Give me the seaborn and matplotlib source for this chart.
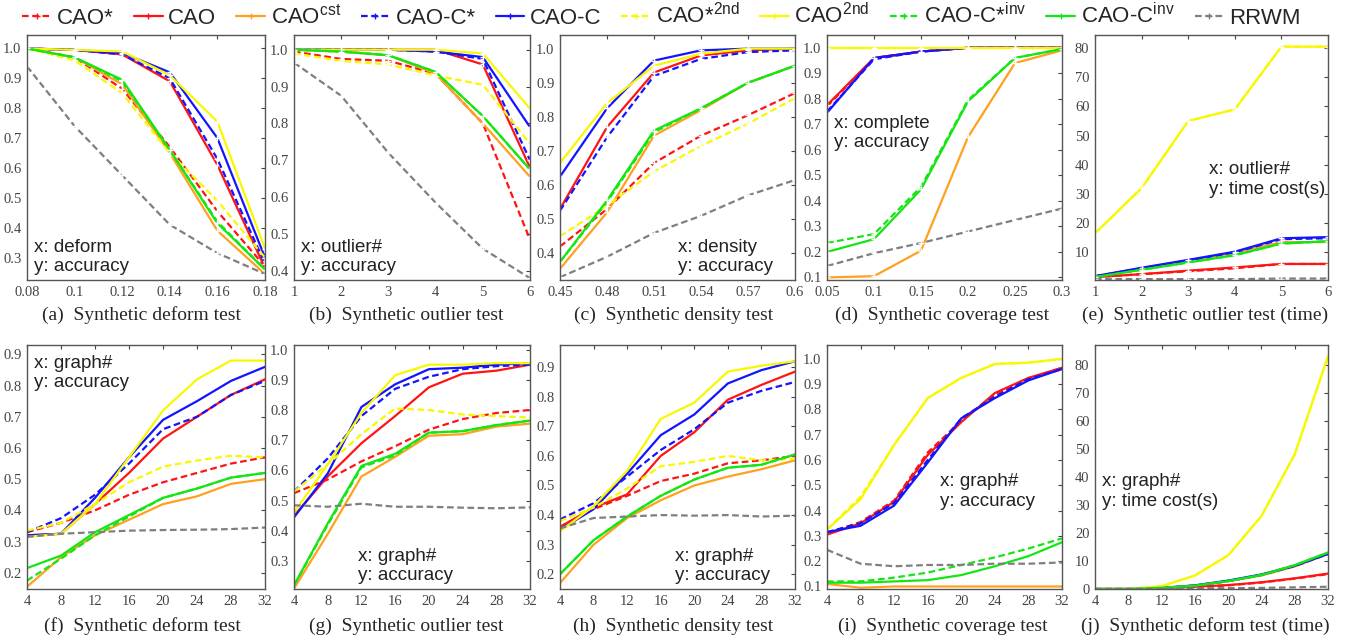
import numpy as np
import pandas as pd
import seaborn as sns
import matplotlib.pyplot as plt
from matplotlib.lines import Line2D
from matplotlib.ticker import MultipleLocator, FormatStrFormatter

# methods, in legend order
methods = ['CAO*', 'CAO', 'CAOcst', 'CAO-C*', 'CAO-C',
           'CAO*2nd', 'CAO2nd', 'CAO-C*inv', 'CAO-Cinv', 'RRWM']
legend_labels = ['CAO*', 'CAO', r'CAO$^{cst}$', 'CAO-C*', 'CAO-C',
                 r'CAO*$^{2nd}$', r'CAO$^{2nd}$', r'CAO-C*$^{inv}$',
                 r'CAO-C$^{inv}$', 'RRWM']

# x values
deform_x = [0.08, 0.1, 0.12, 0.14, 0.16, 0.18]
outlier_x = [1, 2, 3, 4, 5, 6]
density_x = [0.45, 0.48, 0.51, 0.54, 0.57, 0.6]
coverage_x = [0.05, 0.1, 0.15, 0.2, 0.25, 0.3]
graph_x = [4, 8, 12, 16, 20, 24, 28, 32]

# (a) deform test, rows follow `methods`
deform_acc = [
    [1.0, 0.97, 0.865, 0.67, 0.455, 0.27],
    [1.0, 0.995, 0.98, 0.89, 0.61, 0.265],
    [1.0, 0.97, 0.88, 0.65, 0.39, 0.245],
    [1.0, 0.995, 0.98, 0.90, 0.63, 0.28],
    [1.0, 0.995, 0.985, 0.92, 0.70, 0.30],
    [1.0, 0.96, 0.85, 0.65, 0.49, 0.30],
    [1.0, 0.995, 0.99, 0.91, 0.755, 0.33],
    [1.0, 0.97, 0.89, 0.66, 0.42, 0.26],
    [1.0, 0.97, 0.895, 0.66, 0.415, 0.26],
    [0.94, 0.74, 0.575, 0.41, 0.315, 0.245],
]
# (b) outlier test
outlier_acc = [
    [0.995, 0.975, 0.97, 0.935, 0.80, 0.485],
    [1.0, 1.0, 1.0, 1.0, 0.96, 0.68],
    [1.0, 0.995, 0.985, 0.935, 0.80, 0.655],
    [1.0, 1.0, 1.0, 0.995, 0.975, 0.70],
    [1.0, 1.0, 1.0, 0.995, 0.98, 0.79],
    [0.99, 0.97, 0.96, 0.93, 0.905, 0.745],
    [1.0, 1.0, 1.0, 1.0, 0.99, 0.84],
    [1.0, 0.995, 0.985, 0.94, 0.82, 0.675],
    [1.0, 0.995, 0.985, 0.94, 0.82, 0.675],
    [0.965, 0.875, 0.72, 0.585, 0.46, 0.38],
]
# (c) density test
density_acc = [
    [0.42, 0.53, 0.665, 0.745, 0.805, 0.87],
    [0.53, 0.77, 0.93, 0.98, 0.995, 1.0],
    [0.355, 0.52, 0.745, 0.82, 0.90, 0.95],
    [0.525, 0.74, 0.92, 0.97, 0.99, 0.995],
    [0.625, 0.825, 0.965, 0.995, 1.0, 1.0],
    [0.45, 0.54, 0.64, 0.715, 0.78, 0.855],
    [0.665, 0.84, 0.95, 0.985, 1.0, 1.0],
    [0.375, 0.55, 0.755, 0.825, 0.90, 0.95],
    [0.375, 0.555, 0.76, 0.825, 0.90, 0.95],
    [0.33, 0.39, 0.46, 0.51, 0.57, 0.615],
]
# (d) coverage test
coverage_acc = [
    [0.77, 0.96, 0.985, 1.0, 1.0, 1.0],
    [0.775, 0.96, 0.985, 1.0, 1.0, 1.0],
    [0.10, 0.105, 0.205, 0.65, 0.94, 0.99],
    [0.75, 0.955, 0.985, 1.0, 1.0, 1.0],
    [0.745, 0.96, 0.985, 1.0, 1.0, 1.0],
    [1.0, 1.0, 1.0, 1.0, 1.0, 1.0],
    [1.0, 1.0, 1.0, 1.0, 1.0, 1.0],
    [0.235, 0.27, 0.455, 0.795, 0.96, 0.995],
    [0.20, 0.25, 0.445, 0.79, 0.96, 0.995],
    [0.145, 0.195, 0.235, 0.28, 0.325, 0.37],
]
# (e) outlier test, time
outlier_time = [
    [1.5, 2.5, 3.5, 4.5, 6.0, 6.0],
    [1.5, 2.5, 3.7, 4.8, 6.0, 6.0],
    [1.8, 4.5, 7.2, 9.8, 13.5, 13.5],
    [1.8, 4.5, 7.2, 10.0, 14.5, 14.8],
    [1.8, 4.7, 7.4, 10.2, 14.8, 15.2],
    [16.5, 32.0, 55.0, 59.0, 80.5, 80.5],
    [16.5, 32.0, 55.0, 59.0, 80.5, 80.5],
    [1.5, 4.0, 6.5, 9.0, 13.0, 13.8],
    [1.5, 4.0, 6.5, 9.0, 13.0, 13.8],
    [0.8, 0.8, 0.8, 0.8, 1.0, 1.0],
]
# (f) deform test vs graph#
graph_deform_acc = [
    [0.33, 0.36, 0.40, 0.45, 0.49, 0.52, 0.55, 0.57],
    [0.32, 0.325, 0.42, 0.52, 0.63, 0.70, 0.77, 0.82],
    [0.155, 0.25, 0.32, 0.37, 0.42, 0.445, 0.485, 0.50],
    [0.33, 0.375, 0.45, 0.55, 0.66, 0.70, 0.77, 0.815],
    [0.32, 0.325, 0.44, 0.57, 0.69, 0.75, 0.815, 0.86],
    [0.335, 0.36, 0.42, 0.49, 0.54, 0.56, 0.575, 0.57],
    [0.315, 0.325, 0.42, 0.57, 0.72, 0.82, 0.88, 0.88],
    [0.175, 0.245, 0.32, 0.38, 0.44, 0.47, 0.505, 0.52],
    [0.215, 0.255, 0.33, 0.385, 0.44, 0.47, 0.505, 0.52],
    [0.315, 0.325, 0.33, 0.335, 0.337, 0.338, 0.34, 0.345],
]
# (g) outlier test vs graph#
graph_outlier_acc = [
    [0.525, 0.57, 0.63, 0.68, 0.735, 0.77, 0.79, 0.80],
    [0.45, 0.58, 0.69, 0.78, 0.875, 0.92, 0.93, 0.95],
    [0.21, 0.39, 0.58, 0.645, 0.715, 0.72, 0.745, 0.755],
    [0.53, 0.64, 0.78, 0.87, 0.91, 0.935, 0.945, 0.95],
    [0.445, 0.59, 0.81, 0.885, 0.935, 0.94, 0.95, 0.955],
    [0.53, 0.62, 0.72, 0.805, 0.80, 0.785, 0.78, 0.775],
    [0.46, 0.62, 0.79, 0.915, 0.95, 0.95, 0.955, 0.955],
    [0.22, 0.42, 0.61, 0.65, 0.725, 0.73, 0.75, 0.765],
    [0.22, 0.425, 0.615, 0.655, 0.725, 0.73, 0.75, 0.765],
    [0.485, 0.48, 0.49, 0.48, 0.48, 0.477, 0.475, 0.478],
]
# (h) density test vs graph#
graph_density_acc = [
    [0.36, 0.42, 0.465, 0.515, 0.54, 0.575, 0.585, 0.60],
    [0.36, 0.425, 0.47, 0.60, 0.68, 0.79, 0.84, 0.885],
    [0.17, 0.30, 0.39, 0.45, 0.50, 0.53, 0.555, 0.585],
    [0.385, 0.44, 0.53, 0.62, 0.69, 0.78, 0.82, 0.85],
    [0.35, 0.42, 0.54, 0.67, 0.74, 0.845, 0.89, 0.92],
    [0.38, 0.425, 0.49, 0.565, 0.58, 0.60, 0.585, 0.59],
    [0.345, 0.43, 0.55, 0.725, 0.78, 0.885, 0.905, 0.92],
    [0.20, 0.315, 0.395, 0.465, 0.52, 0.56, 0.57, 0.605],
    [0.20, 0.315, 0.395, 0.465, 0.52, 0.56, 0.57, 0.605],
    [0.355, 0.39, 0.395, 0.40, 0.398, 0.40, 0.395, 0.398],
]
# (i) coverage test vs graph#
graph_coverage_acc = [
    [0.31, 0.355, 0.44, 0.63, 0.755, 0.86, 0.92, 0.965],
    [0.305, 0.35, 0.435, 0.62, 0.75, 0.865, 0.925, 0.965],
    [0.11, 0.095, 0.10, 0.10, 0.10, 0.10, 0.10, 0.10],
    [0.315, 0.35, 0.43, 0.60, 0.765, 0.85, 0.92, 0.96],
    [0.315, 0.34, 0.42, 0.59, 0.765, 0.845, 0.915, 0.96],
    [0.325, 0.455, 0.66, 0.845, 0.925, 0.98, 0.985, 1.0],
    [0.325, 0.445, 0.66, 0.845, 0.925, 0.98, 0.985, 1.0],
    [0.12, 0.12, 0.135, 0.155, 0.185, 0.215, 0.25, 0.29],
    [0.115, 0.115, 0.12, 0.125, 0.145, 0.18, 0.22, 0.275],
    [0.245, 0.19, 0.18, 0.185, 0.185, 0.19, 0.19, 0.195],
]
# (j) deform test vs graph#, time
graph_deform_time = [
    [0.0, 0.0, 0.3, 0.7, 1.3, 2.3, 3.7, 5.3],
    [0.0, 0.0, 0.3, 0.8, 1.4, 2.4, 3.8, 5.5],
    [0.0, 0.0, 0.4, 1.2, 2.8, 4.8, 8.0, 12.5],
    [0.0, 0.0, 0.4, 1.2, 2.8, 5.0, 8.2, 12.5],
    [0.0, 0.0, 0.4, 1.3, 3.0, 5.2, 8.3, 12.5],
    [0.0, 0.0, 1.0, 4.8, 12.0, 26.0, 48.0, 83.0],
    [0.0, 0.0, 1.0, 4.8, 12.0, 26.0, 48.0, 83.0],
    [0.0, 0.0, 0.4, 1.2, 2.8, 5.0, 8.5, 13.0],
    [0.0, 0.0, 0.4, 1.2, 2.8, 5.0, 8.5, 13.0],
    [0.0, 0.0, 0.1, 0.2, 0.3, 0.4, 0.6, 0.8],
]

captions = ['(a)  Synthetic deform test', '(b)  Synthetic outlier test',
            '(c)  Synthetic density test', '(d)  Synthetic coverage test',
            '(e)  Synthetic outlier test (time)',
            '(f)  Synthetic deform test', '(g)  Synthetic outlier test',
            '(h)  Synthetic density test', '(i)  Synthetic coverage test',
            '(j)  Synthetic deform test (time)']

sns.set_style('white')
plt.rcParams['font.family'] = ['Liberation Sans', 'DejaVu Sans']
plt.rcParams['mathtext.default'] = 'regular'

red, orange, blue, yellow, green, gray = '#ff1414', '#ffa01e', '#1414ff', '#f8f800', '#14e614', '#7f7f7f'
palette = dict(zip(methods, [red, red, orange, blue, blue, yellow, yellow, green, green, gray]))
dash = (3, 1.6)
dashes = dict(zip(methods, [dash, '', '', dash, '', dash, '', dash, '', dash]))
markers = {m: '+' for m in methods}

# panel setup: (x, values, xlim, ylim, y step, y format, text, text pos, align)
panels = [
    (deform_x, deform_acc, (0.08, 0.18), (0.225, 1.045), 0.1, '%.1f', 'x: deform\ny: accuracy', (0.03, 0.02), 'bottom'),
    (outlier_x, outlier_acc, (1, 6), (0.375, 1.04), 0.1, '%.1f', 'x: outlier#\ny: accuracy', (0.03, 0.02), 'bottom'),
    (density_x, density_acc, (0.45, 0.6), (0.322, 1.04), 0.1, '%.1f', 'x: density\ny: accuracy', (0.50, 0.02), 'bottom'),
    (coverage_x, coverage_acc, (0.05, 0.3), (0.09, 1.05), 0.1, '%.1f', 'x: complete\ny: accuracy', (0.03, 0.6), 'center'),
    (outlier_x, outlier_time, (1, 6), (0.5, 84.5), 10, '%d', 'x: outlier#\ny: time cost(s)', (0.49, 0.41), 'center'),
    (graph_x, graph_deform_acc, (4, 32), (0.148, 0.93), 0.1, '%.1f', 'x: graph#\ny: accuracy', (0.03, 0.96), 'top'),
    (graph_x, graph_outlier_acc, (4, 32), (0.208, 1.015), 0.1, '%.1f', 'x: graph#\ny: accuracy', (0.27, 0.02), 'bottom'),
    (graph_x, graph_density_acc, (4, 32), (0.15, 0.975), 0.1, '%.1f', 'x: graph#\ny: accuracy', (0.49, 0.02), 'bottom'),
    (graph_x, graph_coverage_acc, (4, 32), (0.09, 1.055), 0.1, '%.1f', 'x: graph#\ny: accuracy', (0.48, 0.4), 'center'),
    (graph_x, graph_deform_time, (4, 32), (0.0, 87), 10, '%d', 'x: graph#\ny: time cost(s)', (0.03, 0.4), 'center'),
]

W, H = 1350, 643
fig = plt.figure(figsize=(13.5, 6.43), dpi=100)
col_left = [27, 294, 560, 827, 1095]
col_width = [238, 236, 235, 235, 233]
cap_shift = [-4, -6, -4, -2, -6]
rows = [(35, 280), (345, 589)]
cap_rows = [315, 626]

for i, (x, vals, xlim, ylim, ystep, yfmt, note, pos, va) in enumerate(panels):
    r, c = divmod(i, 5)
    top, bottom = rows[r]
    ax = fig.add_axes([col_left[c] / W, 1 - bottom / H, col_width[c] / W, (bottom - top) / H])
    df = pd.DataFrame({
        'method': np.repeat(methods, len(x)),
        'x': np.tile(x, len(methods)),
        'y': np.concatenate(vals),
    })
    sns.lineplot(data=df, x='x', y='y', hue='method', style='method',
                 hue_order=methods, style_order=methods, palette=palette,
                 dashes=dashes, markers=markers if r == 0 else False,
                 markersize=4, markeredgewidth=1.0, linewidth=1.6,
                 errorbar=None, legend=False, ax=ax)
    ax.set_xlim(*xlim)
    ax.set_ylim(*ylim)
    ax.set_xlabel('')
    ax.set_ylabel('')
    ax.set_xticks(x if r == 0 else graph_x)
    ax.xaxis.set_major_formatter(FormatStrFormatter('%g'))
    ax.yaxis.set_major_locator(MultipleLocator(ystep))
    ax.yaxis.set_major_formatter(FormatStrFormatter(yfmt))
    ax.tick_params(direction='in', length=3, width=0.8, top=True, right=True,
                   labelsize=10.5, colors='#444444', pad=4)
    for lab in ax.get_xticklabels() + ax.get_yticklabels():
        lab.set_family('Liberation Serif')
    for s in ax.spines.values():
        s.set_color('#555555')
        s.set_linewidth(1.0)
    ax.text(pos[0], pos[1], note, transform=ax.transAxes, ha='left', va=va,
            fontsize=13.5, color='#222222', linespacing=1.2)
    cx = col_left[c] + col_width[c] / 2 + cap_shift[c]
    fig.text(cx / W, 1 - cap_rows[r] / H, captions[i],
             ha='center', va='center', fontsize=14, family='Liberation Serif')

handles = []
for m in methods:
    d = dashes[m]
    handles.append(Line2D([0], [0], color=palette[m], lw=1.6, marker='+', markersize=5,
                          linestyle=(0, d) if d else '-'))
fig.legend(handles, legend_labels, loc='center', bbox_to_anchor=(0.49, 0.975),
           ncol=10, frameon=False, fontsize=16, handlelength=1.3,
           handletextpad=0.25, columnspacing=0.9)

fig.savefig('out.png', dpi=100)
